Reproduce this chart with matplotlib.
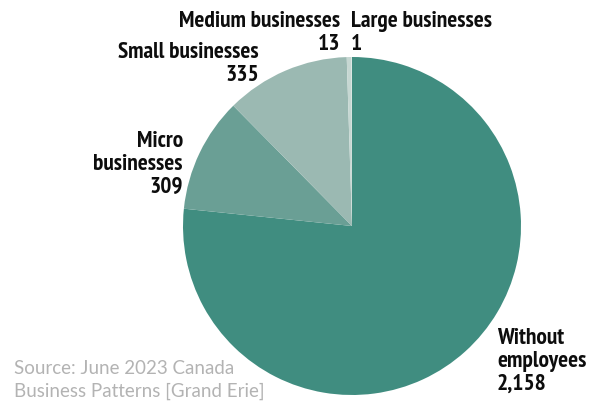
import matplotlib.pyplot as plt

categories = ['Without\nemployees', 'Micro\nbusinesses', 'Small businesses',
              'Medium businesses', 'Large businesses']
counts = [2158, 309, 335, 13, 1]
colors = ['#408d80', '#6a9f95', '#9bb9b2', '#c6d7d2', '#e3ebe8']
source = ['Source: June 2023 Canada', 'Business Patterns [Grand Erie]']

fig = plt.figure(figsize=(5.94, 4.03), dpi=100)
W, H = 594, 403

# pie centred at (352, 226) px from top-left, radius 169 px
cx, cy, r = 352, 226, 169
ax = fig.add_axes([(cx - r) / W, (H - cy - r) / H, 2 * r / W, 2 * r / H])
ax.pie(counts, colors=colors, startangle=90, counterclock=False,
       radius=1, wedgeprops=dict(linewidth=0))
ax.set_xlim(-1, 1)
ax.set_ylim(-1, 1)
ax.set_aspect('equal')
ax.axis('off')


def put_lines(lines, x, y0, step, ha, **kw):
    # one text per line so each baseline sits where the reference has it
    for i, line in enumerate(lines):
        fig.text(x / W, 1 - (y0 + i * step) / H, line, ha=ha, va='baseline', **kw)


label_font = dict(family='PT Sans Narrow', weight='bold', fontsize=16.8, color='#0d0d0d')

# x anchor, first baseline (px from top), alignment
label_pos = [(497, 344, 'left'), (183, 147, 'right'), (259, 58, 'right'),
             (340, 27, 'right'), (351, 27, 'left')]

for cat, n, (x, y, ha) in zip(categories, counts, label_pos):
    put_lines(cat.split('\n') + [f'{n:,}'], x, y, 23, ha, **label_font)

put_lines(source, 14, 374, 23, 'left', family='Lato', fontsize=13.5,
          color='#b3b3b3')

fig.savefig('out.png', dpi=100)
